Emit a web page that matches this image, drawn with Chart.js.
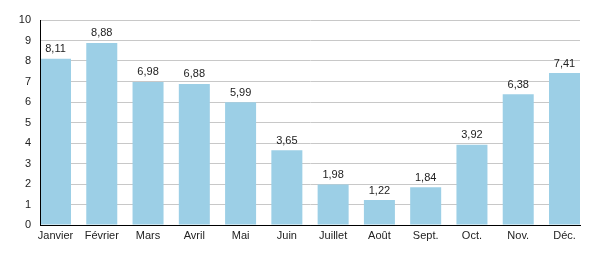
<!DOCTYPE html>
<html><head><meta charset="utf-8">
<script src="https://cdn.jsdelivr.net/npm/chart.js@4"></script>
<style>html,body{margin:0;padding:0;background:#fff;}#wrap{width:600px;height:265px;position:relative;}</style>
</head><body><div id="wrap"><canvas id="c" width="600" height="265"></canvas></div>
<script>
const months = ["Janvier","Février","Mars","Avril","Mai","Juin","Juillet","Août","Sept.","Oct.","Nov.","Déc."];
const values = [8.11, 8.88, 6.98, 6.88, 5.99, 3.65, 1.98, 1.22, 1.84, 3.92, 6.38, 7.41];
const yTicks = [0,1,2,3,4,5,6,7,8,9,10];

const fontFam = '"Liberation Sans", Arial, Helvetica, sans-serif';
const fmt = v => v.toFixed(2).replace('.', ',');

const valueLabels = {
  id: 'valueLabels',
  afterDatasetsDraw(chart) {
    const ctx = chart.ctx;
    const meta = chart.getDatasetMeta(0);
    const a = chart.chartArea;
    ctx.save();
    // redraw axis lines on top of bars
    ctx.strokeStyle = '#000';
    ctx.lineWidth = 1;
    ctx.beginPath();
    const lx = Math.round(a.left) + 0.5, by = Math.round(a.bottom) + 0.5;
    ctx.moveTo(lx, Math.round(a.top));
    ctx.lineTo(lx, by);
    ctx.lineTo(Math.round(a.right), by);
    ctx.stroke();
    ctx.font = '11px ' + fontFam;
    ctx.fillStyle = '#222';
    ctx.textAlign = 'center';
    ctx.textBaseline = 'bottom';
    meta.data.forEach((bar, i) => {
      ctx.fillText(fmt(values[i]), bar.x, bar.y - 4);
    });
    ctx.restore();
  }
};

new Chart(document.getElementById('c'), {
  type: 'bar',
  data: {
    datasets: [{
      data: values.map((v, i) => ({x: i, y: v})),
      backgroundColor: '#9ccfe6',
      borderWidth: 0,
      categoryPercentage: 1,
      barPercentage: 0.67
    }]
  },
  options: {
    responsive: false,
    animation: false,
    events: [],
    layout: { padding: { top: 20, right: 20, left: 0, bottom: 0 } },
    plugins: { legend: { display: false }, tooltip: { enabled: false } },
    scales: {
      x: {
        type: 'linear',
        offset: false,
        min: -0.335,
        max: 11.335,
        afterBuildTicks(axis) { axis.ticks = months.map((m, i) => ({ value: i })); },
        afterFit(axis) { axis.height = 40; },
        grid: { display: false, drawTicks: false, offset: false },
        border: { display: true, color: '#000', width: 1 },
        ticks: {
          autoSkip: false,
          maxRotation: 0,
          padding: 4,
          color: '#222',
          font: { family: fontFam, size: 11 },
          callback: (v) => months[v]
        }
      },
      y: {
        min: 0,
        max: 10,
        afterBuildTicks(axis) { axis.ticks = yTicks.map(v => ({ value: v })); },
        afterFit(axis) { axis.width = 40; },
        grid: { color: '#c8c8c8', drawTicks: false, lineWidth: 1 },
        border: { display: true, color: '#000', width: 1 },
        ticks: {
          padding: 9,
          color: '#222',
          font: { family: fontFam, size: 11 },
          callback: (v) => String(v)
        }
      }
    }
  },
  plugins: [valueLabels]
});
</script></body></html>
